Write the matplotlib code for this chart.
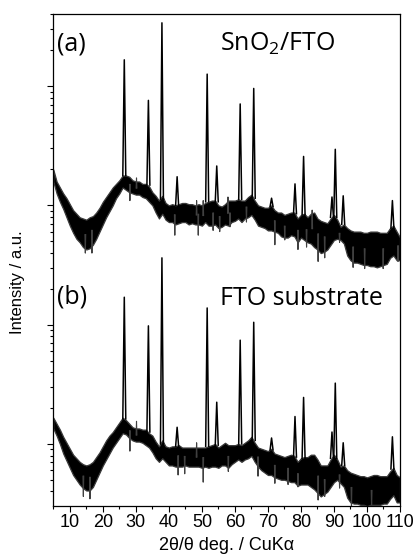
import numpy as np
import matplotlib.pyplot as plt
from matplotlib.ticker import MultipleLocator, LogLocator, NullFormatter

two_theta = np.arange(5, 111)

# log10 intensity, upper / lower edge of the noisy background
# (a) SnO2/FTO
a_top = [3.30, 3.20, 3.15, 3.10, 3.06, 3.01, 2.96, 2.93, 2.90, 2.89,
         2.88, 2.90, 2.91, 2.94, 2.98, 3.03, 3.07, 3.11, 3.15, 3.18,
         3.21, 3.25, 3.25, 3.24, 3.21, 3.20, 3.20, 3.18, 3.18, 3.16,
         3.11, 3.08, 3.04, 3.08, 3.02, 3.00, 3.01, 3.00, 3.01, 3.02,
         3.02, 3.01, 3.01, 3.00, 3.01, 3.00, 3.02, 3.03, 3.04, 3.04,
         3.00, 2.99, 3.01, 3.04, 3.04, 3.04, 3.05, 3.04, 3.04, 3.07,
         3.09, 3.04, 3.00, 2.99, 2.98, 2.98, 3.00, 2.96, 2.94, 2.94,
         2.92, 2.93, 2.94, 2.94, 2.89, 2.92, 2.93, 2.90, 2.93, 2.94,
         2.89, 2.87, 2.86, 2.85, 2.89, 2.92, 2.88, 2.82, 2.84, 2.81,
         2.79, 2.78, 2.78, 2.78, 2.77, 2.77, 2.78, 2.78, 2.78, 2.77,
         2.77, 2.77, 2.81, 2.83, 2.78, 2.73]
a_bot = [3.20, 3.10, 3.03, 2.97, 2.90, 2.83, 2.77, 2.72, 2.69, 2.65,
         2.63, 2.64, 2.67, 2.72, 2.78, 2.84, 2.90, 2.95, 3.00, 3.06,
         3.10, 3.15, 3.13, 3.11, 3.10, 3.09, 3.09, 3.07, 3.06, 3.03,
         3.00, 2.94, 2.89, 2.93, 2.88, 2.86, 2.86, 2.84, 2.85, 2.86,
         2.86, 2.84, 2.85, 2.84, 2.84, 2.83, 2.86, 2.83, 2.83, 2.84,
         2.81, 2.82, 2.84, 2.83, 2.86, 2.87, 2.89, 2.86, 2.89, 2.90,
         2.92, 2.88, 2.83, 2.82, 2.81, 2.79, 2.79, 2.78, 2.77, 2.74,
         2.73, 2.73, 2.75, 2.74, 2.69, 2.73, 2.71, 2.69, 2.68, 2.65,
         2.63, 2.60, 2.61, 2.63, 2.67, 2.71, 2.72, 2.71, 2.68, 2.58,
         2.54, 2.52, 2.52, 2.51, 2.50, 2.50, 2.49, 2.49, 2.48, 2.49,
         2.50, 2.51, 2.56, 2.58, 2.54, 2.54]

# (b) FTO substrate
b_top = [1.22, 1.17, 1.12, 1.06, 1.01, 0.96, 0.91, 0.88, 0.85, 0.83,
         0.82, 0.83, 0.85, 0.89, 0.93, 0.98, 1.03, 1.07, 1.10, 1.14,
         1.18, 1.22, 1.20, 1.17, 1.14, 1.13, 1.13, 1.12, 1.12, 1.09,
         1.07, 1.02, 0.98, 1.03, 0.98, 0.97, 0.98, 0.98, 0.99, 0.97,
         0.97, 0.97, 0.97, 0.97, 0.97, 0.97, 0.97, 0.98, 0.99, 1.00,
         0.97, 0.99, 1.01, 0.99, 0.99, 0.99, 1.00, 0.99, 1.01, 1.03,
         1.06, 1.01, 0.97, 0.96, 0.95, 0.94, 0.96, 0.92, 0.91, 0.90,
         0.89, 0.90, 0.91, 0.90, 0.85, 0.88, 0.89, 0.89, 0.91, 0.91,
         0.87, 0.82, 0.82, 0.82, 0.87, 0.91, 0.87, 0.81, 0.82, 0.78,
         0.76, 0.75, 0.74, 0.73, 0.73, 0.72, 0.73, 0.74, 0.74, 0.73,
         0.73, 0.73, 0.77, 0.80, 0.74, 0.72]
b_bot = [1.13, 1.07, 1.00, 0.92, 0.86, 0.80, 0.74, 0.70, 0.66, 0.63,
         0.61, 0.61, 0.64, 0.70, 0.76, 0.82, 0.87, 0.92, 0.97, 1.01,
         1.05, 1.09, 1.08, 1.05, 1.03, 1.02, 1.02, 1.01, 0.99, 0.97,
         0.93, 0.88, 0.85, 0.88, 0.85, 0.82, 0.82, 0.81, 0.81, 0.81,
         0.82, 0.81, 0.81, 0.81, 0.81, 0.80, 0.81, 0.80, 0.81, 0.81,
         0.80, 0.82, 0.82, 0.80, 0.83, 0.85, 0.87, 0.85, 0.87, 0.88,
         0.90, 0.85, 0.81, 0.78, 0.76, 0.74, 0.74, 0.72, 0.71, 0.70,
         0.70, 0.69, 0.68, 0.68, 0.65, 0.66, 0.66, 0.66, 0.64, 0.62,
         0.59, 0.56, 0.58, 0.60, 0.64, 0.68, 0.70, 0.67, 0.64, 0.55,
         0.51, 0.50, 0.50, 0.49, 0.49, 0.48, 0.49, 0.49, 0.49, 0.49,
         0.50, 0.50, 0.54, 0.57, 0.51, 0.51]

# single noise spikes sticking out of the band: position (deg), log10 tip
a_spike_pos = [14.7, 16.7, 28.2, 30.2, 41.8, 48.4, 48.9, 50.4, 53.4, 55.4,
               57.9, 58.5, 63.5, 72.1, 75.1, 79.1, 81.7, 83.4, 85.2, 87.2,
               91.7, 95.8, 99.3, 104.9, 109.4]
a_spike_tip = [2.60, 2.60, 3.04, 3.23, 2.75, 3.04, 2.75, 3.04, 2.79, 2.78,
               3.07, 2.82, 2.86, 2.67, 2.71, 2.63, 2.65, 2.96, 2.53, 2.56,
               2.69, 2.48, 2.47, 2.47, 2.53]
b_spike_pos = [14.1, 16.1, 28.2, 30.2, 42.8, 44.8, 48.4, 50.4, 58.0, 67.0,
               72.1, 76.1, 79.1, 85.2, 87.2, 91.7, 95.3, 101.4]
b_spike_tip = [0.56, 0.54, 0.94, 1.19, 0.74, 0.75, 1.01, 0.68, 0.77, 0.73,
               0.67, 0.66, 0.64, 0.53, 0.56, 0.63, 0.46, 0.47]

# Bragg peaks: position (deg), log10 peak top, log10 foot
peak_pos = [26.5, 33.8, 37.9, 42.5, 51.6, 54.5, 61.6, 65.7,
            71.1, 78.2, 80.8, 89.4, 90.4, 92.8, 107.7]
a_peak_top = [4.22, 3.88, 4.53, 3.24, 4.10, 3.33, 3.85, 3.98,
              3.06, 3.18, 3.41, 3.07, 3.47, 3.08, 3.04]
a_peak_foot = [3.25, 3.17, 3.05, 3.00, 3.03, 3.03, 3.05, 3.06,
               2.99, 2.93, 2.92, 2.90, 2.90, 2.84, 2.81]
b_peak_top = [2.23, 1.99, 2.56, 1.14, 2.14, 1.35, 1.87, 2.02,
              1.05, 1.23, 1.39, 1.10, 1.51, 1.01, 1.06]
b_peak_foot = [1.21, 1.10, 1.00, 0.98, 0.98, 0.99, 1.00, 1.03,
               0.95, 0.89, 0.88, 0.88, 0.88, 0.82, 0.79]

xticks = [10, 20, 30, 40, 50, 60, 70, 80, 90, 100, 110]

plt.rcParams['mathtext.fontset'] = 'custom'
plt.rcParams['mathtext.rm'] = 'Open Sans'

W, H = 416, 557
fig = plt.figure(figsize=(W / 100, H / 100), dpi=100)
ax = fig.add_axes([53.3 / W, 1 - 506 / H, 346.7 / W, 492 / H])


def draw_pattern(top, bot, spos, stip, ptop, pfoot):
    top = np.array(top)
    bot = np.array(bot)
    ax.fill_between(two_theta, 10 ** bot, 10 ** top, facecolor='black',
                    edgecolor='#3a3a3a', linewidth=0.9)
    # spikes start inside the band at the nearest grid point
    for x, t in zip(spos, stip):
        i = int(round(x)) - 5
        mid = 0.5 * (top[i] + bot[i])
        ax.plot([x - 0.12, x, x + 0.12], [10 ** mid, 10 ** t, 10 ** mid],
                color='#404040', lw=0.8)
    for x, t, f in zip(peak_pos, ptop, pfoot):
        ax.plot([x - 0.45, x, x + 0.45], [10 ** f, 10 ** t, 10 ** f],
                color='black', lw=1.1)


draw_pattern(a_top, a_bot, a_spike_pos, a_spike_tip, a_peak_top, a_peak_foot)
draw_pattern(b_top, b_bot, b_spike_pos, b_spike_tip, b_peak_top, b_peak_foot)

ax.set_yscale('log')
ax.set_xlim(5, 110)
ax.set_ylim(10 ** 0.48, 10 ** 4.604)
ax.set_xticks(xticks)
ax.xaxis.set_minor_locator(MultipleLocator(5))
ax.yaxis.set_major_locator(LogLocator(base=10))
ax.yaxis.set_minor_locator(LogLocator(base=10, subs=np.arange(2, 10)))
ax.yaxis.set_major_formatter(NullFormatter())
ax.yaxis.set_minor_formatter(NullFormatter())

ax.tick_params(which='major', direction='out', length=4, width=0.8)
ax.tick_params(which='minor', direction='out', length=2.5, width=0.8)
ax.tick_params(axis='x', labelsize=13, pad=2)
for lab in ax.get_xticklabels():
    lab.set_fontfamily('Liberation Sans')
for s in ax.spines.values():
    s.set_linewidth(0.9)

ax.set_xlabel('2θ/θ deg. / CuKα', fontsize=13, family='Liberation Sans')
ax.set_ylabel('Intensity / a.u.', fontsize=12, family='Liberation Sans')
ax.yaxis.set_label_coords(-0.082, 0.455)

ax.text(0.012, 0.925, '(a)', transform=ax.transAxes, fontsize=18, family='Open Sans')
ax.text(0.481, 0.925, r'SnO$_\mathrm{2}$/FTO', transform=ax.transAxes, fontsize=18,
        family='Open Sans')
ax.text(0.012, 0.412, '(b)', transform=ax.transAxes, fontsize=18, family='Open Sans')
ax.text(0.481, 0.409, 'FTO substrate', transform=ax.transAxes, fontsize=18,
        family='Open Sans')

fig.savefig('out.png', dpi=100)
